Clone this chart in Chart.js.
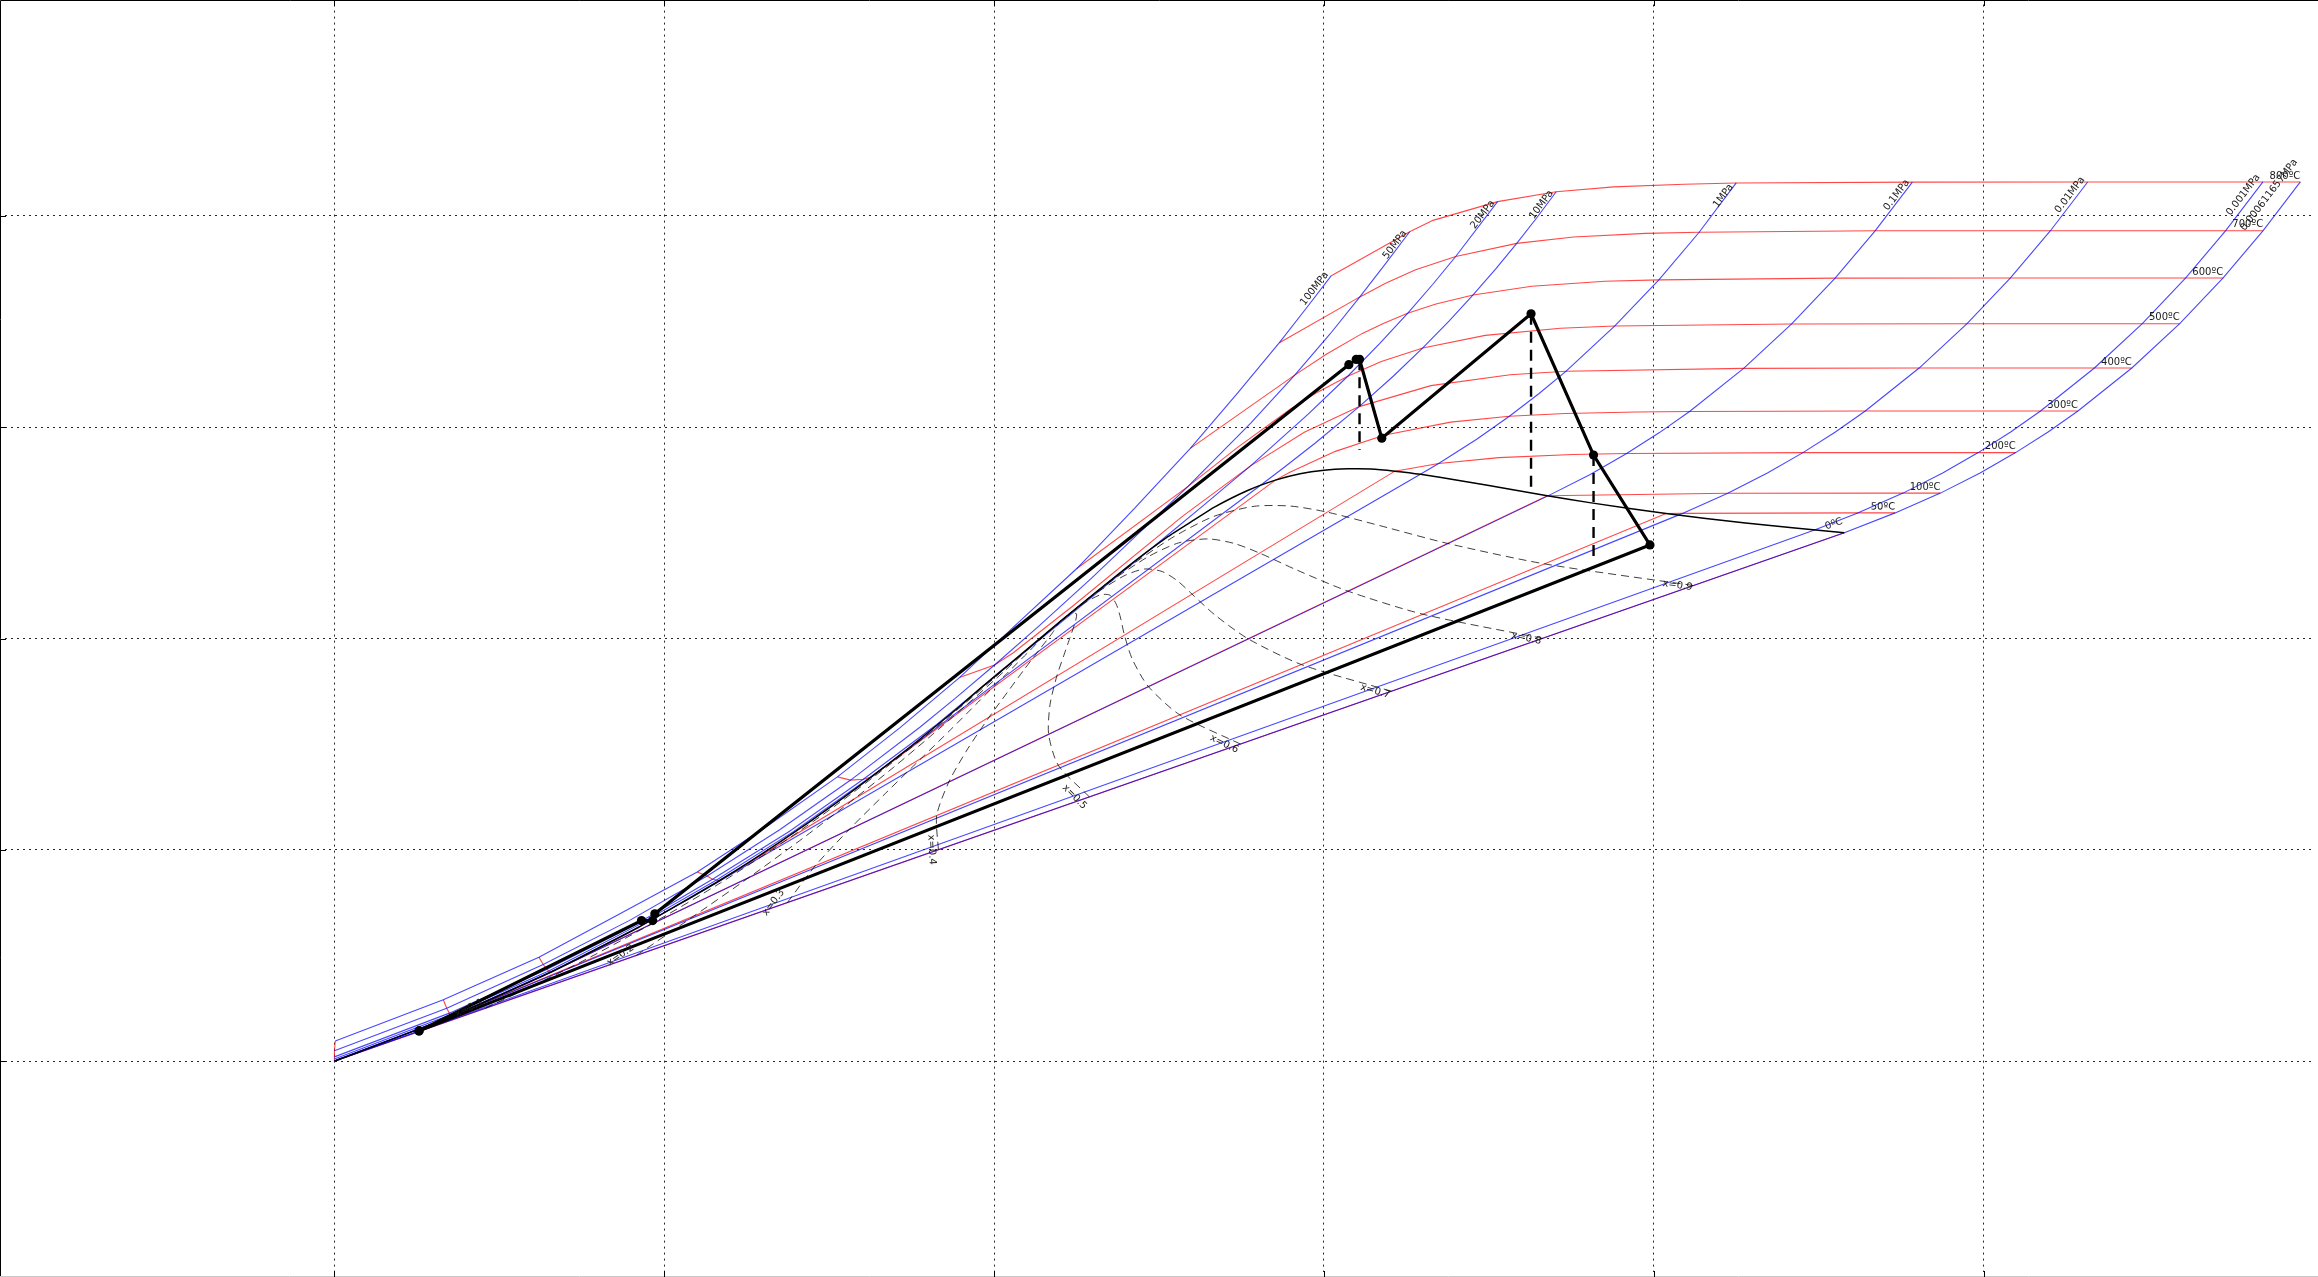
<!DOCTYPE html>
<html><head><meta charset="utf-8">
<script src="https://cdn.jsdelivr.net/npm/chart.js@4.4.1/dist/chart.umd.min.js"></script>
<style>html,body{margin:0;padding:0;background:#fff;overflow:hidden}canvas{display:block}</style>
</head><body>
<canvas id="c" width="2318" height="1277" style="width:2318px;height:1277px"></canvas>
<script>
// ---- axis extents (entropy s, kJ/kgK ; enthalpy h, kJ/kg) ----
const sRange = [-2, 12];
const hRange = [-1000, 5000];

// ---- isobars [s, h] ----
const pressureLabels = ['100MPa','50MPa','20MPa','10MPa','1MPa','0.1MPa','0.01MPa','0.001MPa','0.000611657MPa'];
const p100 = [[0.005,95],[0.66,290],[1.24,492],[1.72,693],[2.20,895],[2.63,1115],[3.05,1345],[3.43,1578],[3.79,1815],[4.14,2070],[4.50,2330],[4.85,2615],[5.19,2900],[5.48,3165],[5.73,3400],[5.90,3570],[6.045,3717]];
const p50 = [[0.0,49],[0.681,250],[1.266,457],[1.79,666],[2.26,876],[2.70,1095],[3.13,1330],[3.55,1580],[3.7642,1716.6],[4.0029,1874.4],[4.2746,2060.7],[4.5896,2284.7],[5.1762,2720.1],[5.5563,3019.8],[5.8245,3247.5],[6.0373,3441.2],[6.2179,3616.7],[6.375,3775],[6.52,3925]];
const p20 = [[0.0,20],[0.697,227],[1.2895,434.4],[1.825,645],[2.2924,860.9],[2.76,1088],[3.207,1334],[3.6505,1591.6],[4.0156,1827.2],[4.9314,2412.3],[5.053,2490],[5.27,2630],[5.43,2735],[5.5553,2816.9],[5.9046,3061.7],[6.1446,3241.2],[6.339,3396.2],[6.5075,3539.0],[6.6593,3675.3],[6.799,3807.8],[7.0531,4067.5]];
const p10 = [[0.0,10],[0.700,218],[1.2996,426.6],[1.830,638.8],[2.3174,856.7],[2.785,1087],[3.2469,1342.3],[3.3606,1408.1],[5.616,2725.5],[5.7596,2810.3],[5.9459,2924.0],[6.2141,3097.5],[6.4219,3242.4],[6.5995,3375.1],[6.7585,3502.0],[6.9045,3625.8],[7.0408,3748.1],[7.1693,3870.0],[7.2920,3992.4],[7.4085,4114.5]];
const p1 = [[0.0,1.0],[0.7037,210.2],[1.3068,419.9],[1.8416,632.5],[2.1381,762.5],[6.585,2777.1],[6.6956,2828.3],[6.9265,2943.1],[7.1246,3051.6],[7.3029,3158.2],[7.467,3264.5],[7.7642,3479.1],[8.0311,3697.4],[8.2755,3922.7],[8.50,4156]];
const p01 = [[0.0,0.1],[0.7038,209.4],[1.3028,417.5],[7.3589,2675.0],[7.6148,2776.6],[7.8356,2875.5],[8.0346,2974.5],[8.2172,3074.5],[8.5452,3278.6],[8.8362,3488.7],[9.0999,3705.6],[9.3424,3929.4],[9.5682,4159.8]];
const p001 = [[0.0,0.0],[0.6492,191.8],[8.1488,2583.9],[8.1741,2592.0],[8.4489,2687.5],[8.6893,2783.0],[8.9049,2879.6],[9.1015,2977.4],[9.2827,3076.7],[9.6094,3280.0],[9.8998,3489.7],[10.1631,3706.3],[10.4056,3929.9],[10.6312,4160.6]];
const p0001 = [[0.0,0.0],[0.1059,29.3],[8.9749,2513.7],[9.2368,2594.4],[9.5116,2688.0],[9.7520,2783.3],[9.9676,2879.8],[10.1642,2977.5],[10.3454,3076.8],[10.6721,3280.1],[10.9625,3489.8],[11.2258,3706.4],[11.4683,3930.0],[11.6939,4160.7]];
const pTriple = [[0.0,0.0],[9.1556,2500.9],[9.4637,2594.5],[9.7385,2688.0],[9.9789,2783.3],[10.1945,2879.8],[10.3911,2977.5],[10.5723,3076.8],[10.899,3280.1],[11.1894,3489.8],[11.4527,3706.4],[11.6952,3930.0],[11.9208,4160.7]];

// ---- isotherms [s, h] ----
const tempLabels = ['0ºC','50ºC','100ºC','200ºC','300ºC','400ºC','500ºC','600ºC','700ºC','800ºC'];
const t0 = [[0.005,95],[0.0,49],[0.0,20],[0.0,10],[0.0,0.0],[9.1556,2500.9]];
const t50 = [[0.66,290],[0.681,250],[0.697,227],[0.700,218],[0.7037,210.2],[0.7038,209.3],[8.0748,2591.3],[8.1741,2592.0],[9.2368,2594.4],[9.4637,2594.5]];
const t100 = [[1.24,492],[1.266,457],[1.2895,434.4],[1.2996,426.6],[1.3068,419.9],[1.3072,419.2],[7.3541,2675.6],[8.4489,2687.5],[9.5116,2688.0],[9.7385,2688.0]];
const t200 = [[2.20,895],[2.26,876],[2.2924,860.9],[2.3174,856.7],[2.3305,852.3],[6.4302,2792.0],[6.6956,2828.3],[7.061,2855.8],[7.5081,2870.7],[7.8356,2875.5],[8.9049,2879.6],[9.9676,2879.8],[10.1945,2879.8]];
const t300 = [[3.05,1345],[3.13,1330],[3.207,1334],[3.2469,1342.3],[3.2548,1344.8],[5.7059,2749.6],[5.7937,2786.5],[6.0696,2885.6],[6.3639,2961.7],[6.7684,3024.2],[7.1246,3051.6],[7.4614,3064.6],[7.8941,3072.1],[8.2172,3074.5],[9.2827,3076.7],[10.3454,3076.8],[10.5723,3076.8]];
const t400 = [[3.79,1815],[4.0029,1874.4],[4.1145,1931.4],[4.4758,2152.8],[5.1419,2578.0],[5.5553,2816.9],[5.881,2975.7],[6.2141,3097.5],[6.6483,3196.7],[7.1292,3248.4],[7.467,3264.5],[8.5452,3278.6],[9.6094,3280.0],[10.6721,3280.1],[10.899,3280.1]];
const t500 = [[4.50,2330],[5.1762,2720.1],[5.4744,2903.3],[5.7956,3084.8],[5.9614,3165.9],[6.1446,3241.2],[6.348,3310.8],[6.5995,3375.1],[6.9781,3434.7],[7.4337,3468.3],[7.7642,3479.1],[8.8362,3488.7],[9.8998,3489.7],[10.9625,3489.8],[11.1894,3489.8]];
const t600 = [[5.19,2900],[5.8245,3247.5],[6.017,3346.4],[6.2331,3444.0],[6.3634,3491.4],[6.5075,3539.0],[6.6796,3583.1],[6.9045,3625.8],[7.2605,3666.9],[7.7037,3690.7],[8.0311,3697.4],[9.0999,3705.6],[10.1631,3706.3],[11.2258,3706.4],[11.4527,3706.4]];
const t700 = [[5.73,3400],[6.2179,3616.7],[6.374,3681.0],[6.556,3745.4],[6.799,3807.8],[7.1693,3870.0],[7.5136,3900.3],[7.9497,3917.4],[8.2755,3922.7],[9.3424,3929.4],[10.4056,3929.9],[11.4683,3930.0],[11.6952,3930.0]];
const t800 = [[6.045,3717],[6.52,3925],[6.6613,3978.8],[7.0531,4067.5],[7.4085,4114.5],[7.7571,4137.3],[8.1837,4150.1],[8.50,4156],[9.5682,4159.8],[10.6312,4160.6],[11.6939,4160.7],[11.9208,4160.7]];

// ---- constant-quality lines [s, h] ----
const qualityLabels = ['x=0.1','x=0.2','x=0.3','x=0.4','x=0.5','x=0.6','x=0.7','x=0.8','x=0.9'];
const q1 = [[0.9156,250.1],[1.4409,447.5],[1.9119,644.8],[2.3413,843.6],[2.7405,1046.2],[3.0468,1214.1],[3.3470,1391.0],[3.6582,1585.2],[3.9240,1760.2],[4.1802,1935.1],[4.407,2084.3]];
const q2 = [[1.8311,500.2],[2.1780,685.7],[2.5166,870.5],[2.8409,1054.9],[3.1504,1240.2],[3.3908,1390.6],[3.6258,1545.3],[3.8670,1709.2],[4.0677,1849.4],[4.2492,1979.5],[4.407,2084.3]];
const q3 = [[2.7467,750.3],[2.9151,923.9],[3.1213,1096.1],[3.3404,1266.3],[3.5604,1434.2],[3.7349,1567.2],[3.9045,1699.7],[4.0758,1833.1],[4.2115,1938.7],[4.3182,2023.8],[4.407,2084.3]];
const q4 = [[3.6622,1000.4],[3.6522,1162.1],[3.7260,1321.7],[3.8399,1477.7],[3.9704,1628.2],[4.0790,1743.7],[4.1832,1854.0],[4.2846,1957.0],[4.3552,2028.0],[4.3872,2068.2],[4.407,2084.3]];
const q5 = [[4.5778,1250.5],[4.3893,1400.3],[4.3307,1547.4],[4.3395,1689.0],[4.3804,1822.1],[4.4231,1920.3],[4.4620,2008.3],[4.4934,2081.0],[4.4990,2117.3],[4.4562,2112.6],[4.407,2084.3]];
const q6 = [[5.4934,1500.5],[5.1264,1638.5],[4.9353,1773.0],[4.8390,1900.4],[4.7903,2016.1],[4.7671,2096.8],[4.7407,2162.6],[4.7021,2204.9],[4.6427,2206.5],[4.5252,2157.0],[4.407,2084.3]];
const q7 = [[6.4089,1750.6],[5.8635,1876.7],[5.5400,1998.7],[5.3385,2111.8],[5.2003,2210.1],[5.1112,2273.4],[5.0194,2316.9],[4.9109,2328.8],[4.7865,2295.8],[4.5942,2201.4],[4.407,2084.3]];
const q8 = [[7.3245,2000.7],[6.6006,2114.9],[6.1447,2224.3],[5.8380,2323.2],[5.6103,2404.1],[5.4553,2449.9],[5.2981,2471.3],[5.1197,2452.7],[4.9302,2385.1],[4.6632,2245.7],[4.407,2084.3]];
const q9 = [[8.2400,2250.8],[7.3377,2353.1],[6.7494,2450.0],[6.3376,2534.5],[6.0202,2598.0],[5.7993,2626.5],[5.5769,2625.6],[5.3285,2576.7],[5.0740,2474.3],[4.7322,2290.1],[4.407,2084.3]];

// ---- saturation curve [s, h] ----
const satCurve = [[0,0],[0.7038,209.3],[1.3072,419.2],[1.8418,632.2],[2.3305,852.3],[2.7027,1037.5],[3.0683,1236.7],[3.4494,1461.3],[3.7802,1670.9],[3.9167,1764.2],[4.1112,1890.7],[4.407,2084.3],
  [4.8012,2334.5],[5.0536,2482.0],[5.2177,2563.6],[5.3359,2622.0],[5.5373,2700.6],[5.7059,2749.6],[5.8556,2779.9],[6.0019,2796.6],[6.1434,2803.0],[6.2861,2802.2],[6.4302,2792.0],[6.5857,2777.2],[6.8371,2745.9],[7.1291,2705.9],[7.3541,2675.6],[7.6111,2643.0],[8.0748,2591.3],[8.5567,2546.5],[9.1556,2500.9]];

// ---- cycle states ----
const cycleS = [0.513, 1.862, 1.930, 1.943, 6.151, 6.196, 6.216, 6.351, 7.256, 7.635, 7.977, 0.513];
const cycleH = [143, 665, 665, 697, 3296, 3321, 3321, 2948, 3537, 2868, 2443, 143];
// ideal (isentropic) expansions
const isenS = [6.216, 7.256, 7.635];
const isenTop = [3321, 3537, 2868];
const isenBottom = [2892, 2708, 2358];

// ---------------------------------------------------------------
const toXY = a => a.map(p => ({x: p[0], y: p[1]}));
const BLUE = 'rgba(0,0,255,0.72)', RED = 'rgba(255,0,0,0.72)';
const isobars = [p100, p50, p20, p10, p1, p01, p001, p0001, pTriple];
const isotherms = [t0, t50, t100, t200, t300, t400, t500, t600, t700, t800];
const qualities = [q1, q2, q3, q4, q5, q6, q7, q8, q9];

const datasets = [];
datasets.push({data: cycleS.map((s, i) => ({x: s, y: cycleH[i]})), showLine: true, borderColor: '#000', backgroundColor: '#000',
  borderWidth: 3.2, pointRadius: 4.6, pointBorderWidth: 0, pointBackgroundColor: '#000'});
isenS.forEach((s, i) => datasets.push({data: [{x: s, y: isenTop[i]}, {x: s, y: isenBottom[i]}], showLine: true,
  borderColor: '#000', borderWidth: 2.4, borderDash: [11, 7], pointRadius: 0}));
datasets.push({data: toXY(satCurve), showLine: true, borderColor: '#000', borderWidth: 1.5, pointRadius: 0, tension: 0.15});
qualities.forEach(q => datasets.push({data: toXY(q), showLine: true, borderColor: 'rgba(0,0,0,0.75)', borderWidth: 1,
  borderDash: [8, 5], pointRadius: 0, tension: 0.25}));
isobars.forEach(p => datasets.push({data: toXY(p), showLine: true, borderColor: BLUE, borderWidth: 1.1, pointRadius: 0}));
isotherms.forEach(t => datasets.push({data: toXY(t), showLine: true, borderColor: RED, borderWidth: 1.1, pointRadius: 0}));

const FONT = 10;
function placeLabel(ctx, xs, ys, text, pts, atStart, mode) {
  const a = atStart ? pts[0] : pts[pts.length - 1];
  const b = atStart ? pts[1] : pts[pts.length - 2];
  const ax = xs.getPixelForValue(a[0]), ay = ys.getPixelForValue(a[1]);
  const bx = xs.getPixelForValue(b[0]), by = ys.getPixelForValue(b[1]);
  let th = Math.atan2(ay - by, ax - bx);
  if (th > Math.PI / 2) th -= Math.PI; else if (th < -Math.PI / 2) th += Math.PI;
  const w = ctx.measureText(text).width, h = FONT * 1.2;
  const ex = (Math.abs(w * Math.cos(th)) + Math.abs(h * Math.sin(th))) / 2;
  const ey = (Math.abs(w * Math.sin(th)) + Math.abs(h * Math.cos(th))) / 2;
  const cx = ax - ex;
  let cy = ay;
  if (mode === 'bottom') cy = ay - ey;
  else if (mode === 'below') cy = ay + 13;
  ctx.save();
  ctx.translate(cx, cy);
  ctx.rotate(th);
  ctx.textAlign = 'center';
  ctx.textBaseline = 'middle';
  ctx.fillText(text, 0, 0);
  ctx.restore();
}

const labelPlugin = {
  id: 'curveLabels',
  afterDatasetsDraw(chart) {
    const ctx = chart.ctx, xs = chart.scales.x, ys = chart.scales.y;
    ctx.save();
    ctx.font = FONT + 'px "DejaVu Sans"';
    ctx.fillStyle = '#1a1a1a';
    isobars.forEach((p, i) => placeLabel(ctx, xs, ys, pressureLabels[i], p, false, 'below'));
    isotherms.forEach((t, i) => placeLabel(ctx, xs, ys, tempLabels[i], t, false, 'bottom'));
    qualities.forEach((q, i) => placeLabel(ctx, xs, ys, qualityLabels[i], q, true, 'center'));
    ctx.restore();
  }
};

const framePlugin = {
  id: 'frame',
  afterDraw(chart) {
    const ctx = chart.ctx, xs = chart.scales.x, ys = chart.scales.y;
    const W = chart.width, H = chart.height;
    ctx.save();
    ctx.strokeStyle = '#000';
    ctx.lineWidth = 1;
    ctx.beginPath();
    ctx.moveTo(0.5, H); ctx.lineTo(0.5, 0.5); ctx.lineTo(W, 0.5);
    ctx.stroke();
    ctx.strokeStyle = '#c8c8c8';
    ctx.beginPath(); ctx.moveTo(0, H - 0.5); ctx.lineTo(W, H - 0.5); ctx.stroke();
    ctx.strokeStyle = '#000';
    ctx.beginPath();
    for (let s = 0; s <= 10; s += 2) {
      const x = Math.round(xs.getPixelForValue(s)) + 0.5;
      ctx.moveTo(x, H); ctx.lineTo(x, H - 6);
      ctx.moveTo(x, 0); ctx.lineTo(x, 6);
    }
    for (let h = 0; h <= 4000; h += 1000) {
      const y = Math.round(ys.getPixelForValue(h)) + 0.5;
      ctx.moveTo(0, y); ctx.lineTo(6, y);
    }
    ctx.stroke();
    ctx.restore();
  }
};

const GRID = 'rgba(0,0,0,0.85)';
const gridColor = (lo, hi) => (c) => (c.tick && (c.tick.value <= lo || c.tick.value >= hi)) ? 'rgba(0,0,0,0)' : GRID;

new Chart(document.getElementById('c').getContext('2d'), {
  type: 'scatter',
  data: {datasets},
  options: {
    responsive: false,
    animation: false,
    devicePixelRatio: 1,
    layout: {padding: 0},
    plugins: {legend: {display: false}, tooltip: {enabled: false}, title: {display: false}},
    elements: {line: {tension: 0}},
    scales: {
      x: {type: 'linear', min: sRange[0], max: sRange[1],
        ticks: {display: false, stepSize: 2},
        grid: {color: gridColor(sRange[0], sRange[1]), lineWidth: 1, drawTicks: false},
        border: {display: false, dash: [2, 4]}},
      y: {type: 'linear', min: hRange[0], max: hRange[1],
        ticks: {display: false, stepSize: 1000},
        grid: {color: gridColor(hRange[0], hRange[1]), lineWidth: 1, drawTicks: false},
        border: {display: false, dash: [2, 4]}}
    }
  },
  plugins: [labelPlugin, framePlugin]
});
</script>
</body></html>
